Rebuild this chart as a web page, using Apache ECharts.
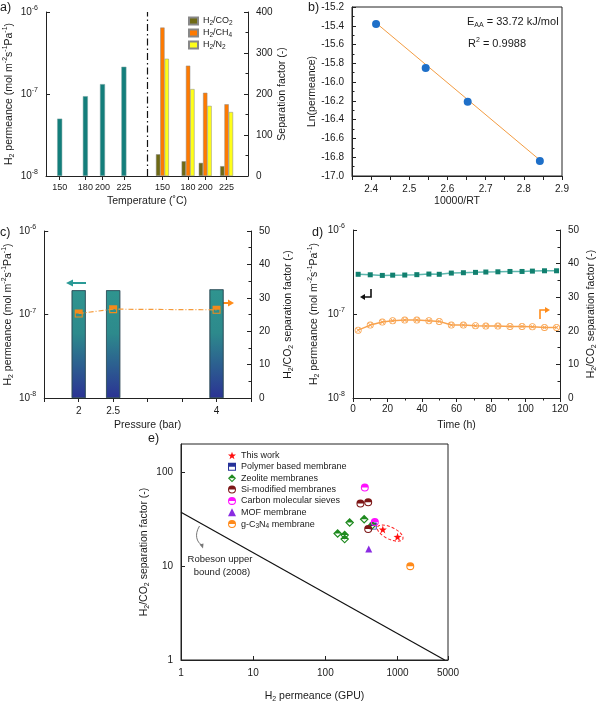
<!DOCTYPE html>
<html><head><meta charset="utf-8">
<script src="https://cdn.jsdelivr.net/npm/echarts@6/dist/echarts.min.js"></script>
<style>html,body{margin:0;padding:0;background:#fff}#c{width:600px;height:704px}</style>
</head><body><div id="c"></div>
<script>
// ---------------- data ----------------
// (a) temperature dependence
const TEMPS = [150, 180, 200, 225];
const PERM_TEMP = [5.0e-8, 9.4e-8, 1.32e-7, 2.15e-7];
const GAS_NAMES = ['H2/CO2', 'H2/CH4', 'H2/N2'];
const SEL_CO2 = [53, 36, 32, 24];
const SEL_CH4 = [362, 269, 203, 175];
const SEL_N2 = [286, 212, 171, 156];
// (b) Arrhenius plot
const INV_RT = [2.413, 2.543, 2.653, 2.842];
const LN_PERM = [-15.38, -15.85, -16.21, -16.84];
const FIT_X = [2.413, 2.842];
const FIT_Y = [-15.37, -16.83];
// (c) pressure dependence
const PRESSURES = [2, 2.5, 4];
const PERM_P = [1.95e-7, 1.95e-7, 2.0e-7];
const SEL_P = [25.3, 26.6, 26.4];
// (d) stability
const TIME = [3, 10, 17, 23, 30, 37, 44, 50, 57, 64, 71, 77, 84, 91, 98, 104, 111, 118];
const PERM_T = [2.97e-7, 2.93e-7, 2.88e-7, 2.90e-7, 2.91e-7, 2.94e-7, 2.99e-7, 2.97e-7, 3.07e-7, 3.10e-7, 3.13e-7, 3.16e-7, 3.18e-7, 3.21e-7, 3.21e-7, 3.24e-7, 3.27e-7, 3.27e-7];
const SEL_T = [20.2, 21.7, 22.6, 23.0, 23.2, 23.2, 23.0, 22.8, 21.7, 21.7, 21.5, 21.4, 21.4, 21.3, 21.3, 21.2, 21.0, 21.0];
// (e) comparison (GPU, selectivity)
const E_NAMES = ['This work', 'Polymer based membrane', 'Zeolite membranes', 'Si-modified membranes', 'Carbon molecular sieves', 'MOF membrane', 'g-C3N4 membrane'];
const THIS_WORK = [[625, 24.6], [1000, 20.5]];
const POLYMER = [[460, 26.7]];
const ZEOLITE = [[148, 22.3], [185, 21.4], [185, 19.4], [217, 29.2], [345, 31.6], [445, 27.3]];
const SI_MOD = [[306, 46.4], [392, 48], [392, 24.9]];
const CMS = [[352, 68.8], [484, 29.6]];
const MOF = [[399, 15.2]];
const GCN = [[1500, 10]];
const ROBESON = [[1, 37.5], [4500, 1]];
const X_TICKS_E = [1, 10, 100, 1000, 5000];
const Y_TICKS_E = [1, 10, 100];

// ---------------- layout constants ----------------
const LOG_MIN = -8;          // lower decade of the permeance axes
const SHIFT = 120;           // x offset of the separation-factor group in (a)
const DIVIDER = 252;         // dash-dot separator position in (a)
const FONT = '"Liberation Sans", Arial, sans-serif';
const TXT = '#1a1a1a';
const AX = '#222';

const RICH = {
  sup: {fontSize: 7, verticalAlign: 'top', fontFamily: FONT, color: TXT, lineHeight: 14},
  sub: {fontSize: 7, verticalAlign: 'bottom', fontFamily: FONT, color: TXT, lineHeight: 14}
};
const RICH_S = {
  sub: {fontSize: 6.5, verticalAlign: 'bottom', fontFamily: FONT, color: TXT, lineHeight: 12}
};
const subify = s => s.replace(/(\d)/g, '{sub|$1}');
const PERM_NAME = 'H{sub|2} permeance (mol m{sup|-2}s{sup|-1}Pa{sup|-1})';
const SEL_NAME = 'H{sub|2}/CO{sub|2} separation factor (-)';
const lg = v => Math.log10(v) - LOG_MIN;

// symbol paths (20x20 box): filled upper half + outlined lower half (non-overlapping pieces)
const HALF_CIRCLE = 'path://M0,10A10,10,0,0,1,20,10ZM20,10A10,10,0,0,1,0,10L2.6,10A7.4,7.4,0,0,0,17.4,10Z';
const HALF_SQUARE = 'path://M0,0H20V10H0ZM0,10V20H20V10H17.4V17.4H2.6V10Z';
const HALF_DIAMOND = 'path://M10,0L20,10L0,10ZM20,10L10,20L0,10L3.6,10L10,16.4L16.4,10Z';
const STAR = 'path://M10,0L12.35,6.76L19.51,6.91L13.8,11.24L15.88,18.09L10,14L4.12,18.09L6.2,11.24L0.49,6.91L7.65,6.76Z';
const CROSS_CIRCLE = 'path://M0,10A10,10,0,1,1,20,10A10,10,0,1,1,0,10ZM2.4,10A7.6,7.6,0,1,0,17.6,10A7.6,7.6,0,1,0,2.4,10ZM4,5.6L5.6,4L16,14.4L14.4,16ZM14.4,4L16,5.6L5.6,16L4,14.4Z';

const lbl = (extra) => Object.assign({fontSize: 10, color: TXT, fontFamily: FONT, rich: RICH}, extra || {});
const nameStyle = {fontSize: 10.5, color: TXT, fontFamily: FONT, rich: RICH};
const line = {show: true, lineStyle: {color: AX, width: 1}};

function yAx(o) {
  return Object.assign({
    type: 'value', axisLine: line, splitLine: {show: false},
    axisTick: {inside: true, length: 4, lineStyle: {color: AX}},
    minorTick: {show: false, length: 2.5, lineStyle: {color: AX}},
    axisLabel: lbl(), nameLocation: 'middle', nameRotate: 90, nameTextStyle: nameStyle
  }, o);
}
function xAx(o) {
  return Object.assign({
    type: 'value', axisLine: line, splitLine: {show: false},
    axisTick: {inside: false, length: 4, lineStyle: {color: AX}},
    axisLabel: lbl({margin: 6}), nameLocation: 'middle', nameTextStyle: nameStyle
  }, o);
}

const tempTicks = TEMPS.concat(TEMPS.map(t => t + SHIFT));
const permFmt = v => '10{sup|' + Math.round(v + LOG_MIN) + '}';

const option = {
  animation: false,
  backgroundColor: '#fff',
  textStyle: {fontFamily: FONT},
  grid: [
    {left: 46, top: 12, width: 202, height: 164},
    {left: 352, top: 7, width: 210, height: 169, show: true, borderColor: AX, borderWidth: 1},
    {left: 44, top: 231, width: 207, height: 167},
    {left: 353, top: 230, width: 207, height: 168},
    {left: 181, top: 444, width: 267, height: 216, show: true, borderColor: AX, borderWidth: 1}
  ],
  xAxis: [
    xAx({gridIndex: 0, min: 134, max: 370, name: 'Temperature (˚C)', nameGap: 20,
      axisTick: {customValues: tempTicks, length: 4, lineStyle: {color: AX}},
      axisLabel: lbl({fontSize: 9, margin: 7, customValues: tempTicks, formatter: v => String(v > DIVIDER ? v - SHIFT : v)})}),
    xAx({gridIndex: 0, min: 134, max: 370, show: false}),
    xAx({gridIndex: 1, min: 2.35, max: 2.9, interval: 0.05, name: '10000/RT', nameGap: 20,
      axisLabel: lbl({formatter: v => (Math.round(v * 100) % 10 === 0 ? v.toFixed(1) : '')})}),
    xAx({gridIndex: 2, min: 1.5, max: 4.5, interval: 0.5, name: 'Pressure (bar)', nameGap: 22,
      axisLabel: lbl({customValues: PRESSURES})}),
    xAx({gridIndex: 3, min: 0, max: 120, interval: 20, name: 'Time (h)', nameGap: 22,
      minorTick: {show: true, splitNumber: 2, length: 2.5, lineStyle: {color: AX}}}),
    xAx({gridIndex: 4, type: 'log', logBase: 10, min: 1, max: 5000, name: 'H{sub|2} permeance (GPU)', nameGap: 29,
      axisTick: {customValues: X_TICKS_E, inside: true, length: 4, lineStyle: {color: AX}},
      axisLabel: lbl({customValues: X_TICKS_E, formatter: v => String(Math.round(v))})})
  ],
  yAxis: [
    yAx({gridIndex: 0, min: 0, max: 2, interval: 1, name: PERM_NAME, nameGap: 30,
      axisLabel: lbl({formatter: permFmt})}),
    yAx({gridIndex: 0, position: 'right', min: 0, max: 400, interval: 100, name: 'Separation factor (-)', nameGap: 29,
      minorTick: {show: true, splitNumber: 2, length: 2.5, lineStyle: {color: AX}}}),
    yAx({gridIndex: 1, min: -17, max: -15.2, interval: 0.2, name: 'Ln(permeance)', nameGap: 31,
      minorTick: {show: true, splitNumber: 2, length: 2.5, lineStyle: {color: AX}},
      axisLabel: lbl({formatter: v => v.toFixed(1)})}),
    yAx({gridIndex: 2, min: 0, max: 2, interval: 1, name: PERM_NAME, nameGap: 28,
      axisLabel: lbl({formatter: permFmt})}),
    yAx({gridIndex: 2, position: 'right', min: 0, max: 50, interval: 10, name: SEL_NAME, nameGap: 30,
      minorTick: {show: true, splitNumber: 2, length: 2.5, lineStyle: {color: AX}}}),
    yAx({gridIndex: 3, type: 'log', logBase: 10, min: 1e-8, max: 1e-6, name: PERM_NAME, nameGap: 32,
      axisLabel: lbl({formatter: v => '10{sup|' + Math.round(Math.log10(v)) + '}'})}),
    yAx({gridIndex: 3, position: 'right', min: 0, max: 50, interval: 10, name: SEL_NAME, nameGap: 24,
      minorTick: {show: true, splitNumber: 2, length: 2.5, lineStyle: {color: AX}}}),
    yAx({gridIndex: 4, type: 'log', logBase: 10, min: 1, max: 200, name: SEL_NAME, nameGap: 30,
      axisTick: {customValues: Y_TICKS_E, inside: true, length: 4, lineStyle: {color: AX}},
      axisLabel: lbl({customValues: Y_TICKS_E, formatter: v => String(Math.round(v))})})
  ],
  legend: [
    {data: GAS_NAMES, orient: 'vertical', left: 183, top: 10, itemWidth: 9, itemHeight: 7, itemGap: 0,
      icon: 'rect', formatter: subify,
      textStyle: {fontSize: 9, color: TXT, fontFamily: FONT, lineHeight: 12, rich: RICH_S}},
    {data: E_NAMES, orient: 'vertical', left: 223, top: 445, itemWidth: 8, itemHeight: 8, itemGap: 0.35,
      formatter: subify,
      textStyle: {fontSize: 9, color: TXT, fontFamily: FONT, lineHeight: 11, rich: RICH_S}}
  ],
  series: [
    // (a)
    {type: 'bar', name: 'H2 permeance', xAxisIndex: 0, yAxisIndex: 0, barWidth: 5,
      data: TEMPS.map((t, i) => [t, lg(PERM_TEMP[i])]),
      itemStyle: {color: '#137e7b', borderColor: '#7aa5a3', borderWidth: 0.5},
      markLine: {silent: true, symbol: 'none', label: {show: false},
        lineStyle: {color: '#111', type: [7, 3, 1.5, 3], width: 1.2}, data: [{xAxis: DIVIDER}]}},
    {type: 'bar', name: GAS_NAMES[0], xAxisIndex: 1, yAxisIndex: 1, barWidth: 4.3, barGap: '0%',
      data: TEMPS.map((t, i) => [t + SHIFT, SEL_CO2[i]]),
      itemStyle: {color: '#6f6a14', borderColor: '#888', borderWidth: 0.5}},
    {type: 'bar', name: GAS_NAMES[1], xAxisIndex: 1, yAxisIndex: 1, barWidth: 4.3, barGap: '0%',
      data: TEMPS.map((t, i) => [t + SHIFT, SEL_CH4[i]]),
      itemStyle: {color: '#ff7a00', borderColor: '#888', borderWidth: 0.5}},
    {type: 'bar', name: GAS_NAMES[2], xAxisIndex: 1, yAxisIndex: 1, barWidth: 4.3, barGap: '0%',
      data: TEMPS.map((t, i) => [t + SHIFT, SEL_N2[i]]),
      itemStyle: {color: '#ffff1a', borderColor: '#888', borderWidth: 0.5}},
    // (b)
    {type: 'line', xAxisIndex: 2, yAxisIndex: 2, symbol: 'none', z: 1,
      data: FIT_X.map((x, i) => [x, FIT_Y[i]]), lineStyle: {color: '#f39c42', width: 1}},
    {type: 'scatter', xAxisIndex: 2, yAxisIndex: 2, symbolSize: 8, z: 3,
      data: INV_RT.map((x, i) => [x, LN_PERM[i]]), itemStyle: {color: '#1e6fc8', opacity: 1}},
    // (c)
    {type: 'bar', xAxisIndex: 3, yAxisIndex: 3, barWidth: 14,
      data: PRESSURES.map((p, i) => [p, lg(PERM_P[i])]),
      itemStyle: {borderColor: '#2c4a55', borderWidth: 0.6,
        color: {type: 'linear', x: 0, y: 0, x2: 0, y2: 1,
          colorStops: [{offset: 0, color: '#2f948f'}, {offset: 0.4, color: '#2d8a8c'}, {offset: 1, color: '#2b3394'}]}}},
    {type: 'line', xAxisIndex: 3, yAxisIndex: 4, symbol: HALF_SQUARE, symbolSize: 8, z: 4,
      data: PRESSURES.map((p, i) => [p, SEL_P[i]]),
      lineStyle: {color: '#f59a3a', width: 1.2, type: [5, 2, 1, 2]},
      itemStyle: {color: '#f58a1a', opacity: 1}},
    // (d)
    {type: 'line', xAxisIndex: 4, yAxisIndex: 5, symbol: 'rect', symbolSize: 5,
      data: TIME.map((t, i) => [t, PERM_T[i]]),
      lineStyle: {color: '#5db7ae', width: 1.5}, itemStyle: {color: '#11806f'}},
    {type: 'line', xAxisIndex: 4, yAxisIndex: 6, symbol: CROSS_CIRCLE, symbolSize: 7,
      data: TIME.map((t, i) => [t, SEL_T[i]]),
      lineStyle: {color: '#f8a24e', width: 1.5}, itemStyle: {color: '#f9a450'}},
    // (e)
    {type: 'line', xAxisIndex: 5, yAxisIndex: 7, symbol: 'none', data: ROBESON,
      lineStyle: {color: '#111', width: 1.2}},
    {type: 'scatter', name: E_NAMES[0], xAxisIndex: 5, yAxisIndex: 7, symbol: STAR, symbolSize: 8, data: THIS_WORK, itemStyle: {color: '#ff1010', opacity: 1}, z: 5},
    {type: 'scatter', name: E_NAMES[1], xAxisIndex: 5, yAxisIndex: 7, symbol: HALF_SQUARE, symbolSize: 7, data: POLYMER, itemStyle: {color: '#26329a', opacity: 1}},
    {type: 'scatter', name: E_NAMES[2], xAxisIndex: 5, yAxisIndex: 7, symbol: HALF_DIAMOND, symbolSize: 9, data: ZEOLITE, itemStyle: {color: '#1f8a1f', opacity: 1}},
    {type: 'scatter', name: E_NAMES[3], xAxisIndex: 5, yAxisIndex: 7, symbol: HALF_CIRCLE, symbolSize: 8, data: SI_MOD, itemStyle: {color: '#7d1717', opacity: 1}},
    {type: 'scatter', name: E_NAMES[4], xAxisIndex: 5, yAxisIndex: 7, symbol: HALF_CIRCLE, symbolSize: 8, data: CMS, itemStyle: {color: '#ff10ff', opacity: 1}},
    {type: 'scatter', name: E_NAMES[5], xAxisIndex: 5, yAxisIndex: 7, symbol: 'triangle', symbolSize: 7, data: MOF, itemStyle: {color: '#8a2be2', opacity: 1}},
    {type: 'scatter', name: E_NAMES[6], xAxisIndex: 5, yAxisIndex: 7, symbol: HALF_CIRCLE, symbolSize: 8, data: GCN, itemStyle: {color: '#ff8a1a', opacity: 1}}
  ]
};

const chart = echarts.init(document.getElementById('c'), null, {renderer: 'canvas'});
chart.setOption(option);

// annotations
const tf = (s, x, y, size, extra) => ({type: 'text', x: x, y: y, silent: true,
  style: Object.assign({text: s, fill: TXT, font: size + 'px ' + FONT, rich: RICH}, extra || {})});
const mid = chart.convertToPixel({gridIndex: 4}, [Math.sqrt(THIS_WORK[0][0] * THIS_WORK[1][0]), Math.sqrt(THIS_WORK[0][1] * THIS_WORK[1][1])]);
const graphics = [
  tf('a)', 0, 1, 12.5), tf('b)', 308, 1, 12.5), tf('c)', 0, 226, 12.5), tf('d)', 312, 226, 12.5), tf('e)', 148, 432, 12.5),
  tf('E{sub|AA} = 33.72 kJ/mol', 467, 15, 11),
  tf('R{sup|2} = 0.9988', 468, 37, 11),
  // (c) arrows
  {type: 'line', silent: true, shape: {x1: 86, y1: 283, x2: 71, y2: 283}, style: {stroke: '#2a9a96', lineWidth: 2}},
  {type: 'polygon', silent: true, shape: {points: [[66, 283], [73, 279.5], [73, 286.5]]}, style: {fill: '#2a9a96'}},
  {type: 'line', silent: true, shape: {x1: 223, y1: 303, x2: 229, y2: 303}, style: {stroke: '#ff8c1a', lineWidth: 2}},
  {type: 'polygon', silent: true, shape: {points: [[234, 303], [228, 299.5], [228, 306.5]]}, style: {fill: '#ff8c1a'}},
  // (d) arrows
  {type: 'polyline', silent: true, shape: {points: [[371, 289], [371, 297], [364, 297]]}, style: {stroke: '#111', lineWidth: 1.6, fill: null}},
  {type: 'polygon', silent: true, shape: {points: [[360, 297], [365, 294], [365, 300]]}, style: {fill: '#111'}},
  {type: 'polyline', silent: true, shape: {points: [[540, 319], [540, 310], [545, 310]]}, style: {stroke: '#ff8c1a', lineWidth: 1.6, fill: null}},
  {type: 'polygon', silent: true, shape: {points: [[550, 310], [545, 307], [545, 313]]}, style: {fill: '#ff8c1a'}},
  // (e) annotations
  tf('Robeson upper', 220, 559, 9.5, {align: 'center', verticalAlign: 'middle'}),
  tf('bound (2008)', 222, 572, 9.5, {align: 'center', verticalAlign: 'middle'}),
  {type: 'bezierCurve', silent: true, shape: {x1: 199.5, y1: 526, cpx1: 194, cpy1: 535, cpx2: 197, cpy2: 542, x2: 201.5, y2: 545},
    style: {stroke: '#777', lineWidth: 1, fill: null}},
  {type: 'polygon', silent: true, shape: {points: [[203, 548.5], [199.5, 544.5], [203.5, 543.5]]}, style: {fill: '#777'}},
  {type: 'ellipse', silent: true, x: mid[0], y: mid[1], rotation: -0.45, shape: {cx: 0, cy: 0, rx: 14, ry: 6},
    style: {stroke: '#ff2020', lineWidth: 1, lineDash: [3, 2], fill: null}}
];
chart.setOption({graphic: graphics});
</script></body></html>
